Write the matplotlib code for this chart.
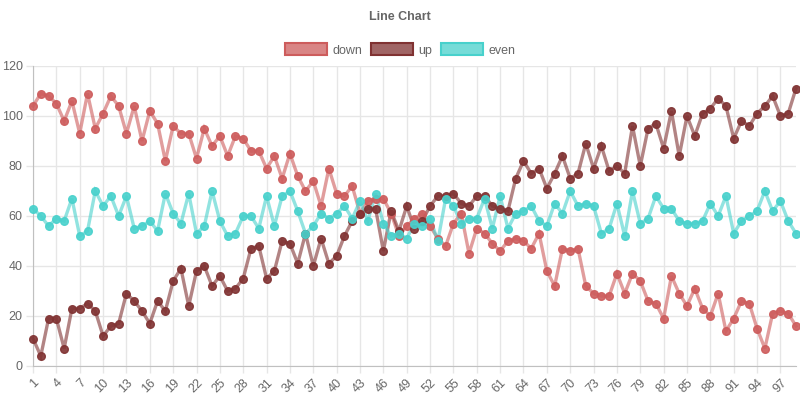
import matplotlib
matplotlib.use("Agg")
import matplotlib.pyplot as plt
from matplotlib.patches import Patch
import numpy as np

labels = list(range(1, 100))
down = [104,109,108,105,98,106,93,109,95,101,
        108,104,93,104,90,102,97,82,96,93,
        93,83,95,88,92,84,92,91,86,86,
        79,84,75,85,76,70,74,64,79,69,
        68,72,61,66,67,67,61,52,56,59,
        61,56,51,48,57,61,45,55,53,49,
        46,50,51,50,47,53,38,32,47,46,
        47,32,29,28,28,37,29,37,34,26,
        25,19,36,29,24,31,23,20,29,14,
        19,26,25,15,7,21,22,21,16]
up = [11,4,19,19,7,23,23,25,22,12,
      16,17,29,26,22,17,26,22,34,39,
      24,38,40,32,36,30,31,35,47,48,
      35,38,50,49,41,53,40,51,41,44,
      52,58,61,63,63,46,62,54,64,55,
      58,64,68,68,69,65,64,68,68,64,
      63,62,75,82,77,79,71,77,84,75,
      77,89,79,88,78,80,77,96,80,95,
      97,87,102,84,100,92,101,103,107,104,
      91,98,96,101,104,108,100,101,111]
even = [63,60,56,59,58,67,52,54,70,64,
        68,60,68,55,56,58,54,69,61,57,
        69,53,56,70,58,52,53,60,60,55,
        68,56,68,70,62,53,56,61,59,61,
        64,59,66,58,69,57,52,53,51,57,
        56,59,50,67,64,57,59,59,67,55,
        68,55,61,62,64,58,56,65,61,70,
        64,65,64,53,55,65,52,70,57,59,
        68,63,63,58,57,57,58,65,60,68,
        53,58,60,62,70,62,66,58,53]

series = [("down", down, (205/255, 92/255, 92/255)),
          ("up", up, (128/255, 50/255, 50/255)),
          ("even", even, (72/255, 209/255, 204/255))]

plt.rcParams['font.family'] = ['Liberation Sans', 'DejaVu Sans']
fig = plt.figure(figsize=(8, 4), dpi=100)
ax = fig.add_axes([33/800, 1-366/400, (796-33)/800, 300/400])

x = np.array(labels)
for name, vals, col in series:
    ax.plot(x, vals, color=col, alpha=0.6, lw=2.4, solid_joinstyle='miter',
            clip_on=False, zorder=3)
    ax.plot(x, vals, ls='none', marker='o', ms=5.5, mfc=col, mec=col,
            alpha=0.9, clip_on=False, zorder=4)

ax.set_xlim(1, 99)
ax.set_ylim(0, 120)
ax.set_yticks(np.arange(0, 121, 20))
ax.set_xticks(x[::3])
ax.set_xticklabels([str(v) for v in labels[::3]], rotation=45, ha='right',
                   rotation_mode='anchor')
ax.tick_params(axis='both', color='#e6e6e6', labelcolor='#666666',
               labelsize=9, length=5, width=1, pad=2.5)
ax.grid(True, color='#e6e6e6', lw=1)
ax.set_axisbelow(True)
for s in ['top', 'right']:
    ax.spines[s].set_visible(False)
ax.spines['left'].set_color('#c0c0c0')
ax.spines['bottom'].set_color('#c0c0c0')

fig.text(0.5, 1-17/400, "Line Chart", ha='center', va='center',
         fontsize=9, fontweight='bold', color='#666666')

handles = [Patch(facecolor=(*c, 0.75), edgecolor=(*c, 1.0), lw=1.5, label=n)
           for n, _, c in series]
fig.legend(handles=handles, loc='center', bbox_to_anchor=(0.5, 1-50/400),
           ncol=3, frameon=False, fontsize=9, labelcolor='#666666',
           handlelength=3.4, handleheight=1.1, handletextpad=0.4,
           columnspacing=0.7)

fig.savefig("out.png", dpi=100)
